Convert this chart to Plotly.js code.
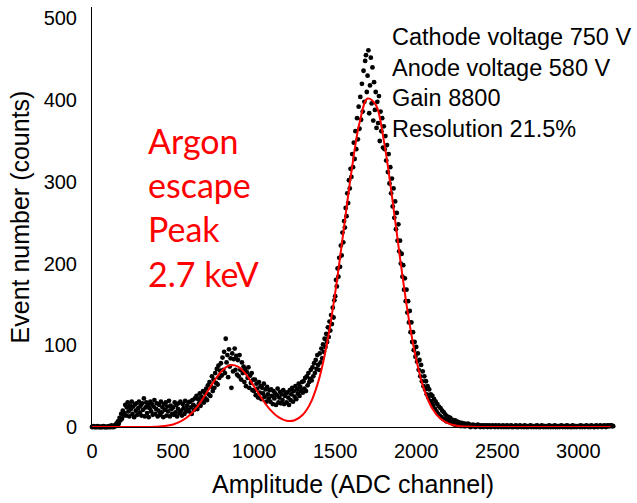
<!DOCTYPE html>
<html>
<head>
<meta charset="utf-8">
<script src="https://cdn.plot.ly/plotly-3.0.1.min.js"></script>
<style>html,body{margin:0;padding:0;background:#fff}#chart{width:637px;height:503px}</style>
</head>
<body>
<div id="chart"></div>
<script>
// Measured spectrum: counts per ADC channel, channels 0,5,10,... (step 5)
const countStep = 5;
const counts = [
  0,0,1,0,0,0,0,1,0,0,0,0,0,0,1,0,0,0,0,0,
  0,1,0,0,2,0,1,0,2,1,4,2,7,4,11,8,16,10,20,14,
  17,27,14,24,30,19,13,26,22,31,16,25,12,28,20,29,15,23,31,18,
  26,14,29,21,35,13,24,30,17,27,12,23,31,19,28,15,25,33,16,22,
  29,13,20,27,15,31,18,24,12,28,21,30,14,25,19,32,13,26,22,16,
  24,15,30,18,27,13,22,29,17,31,20,14,28,23,16,32,19,26,21,30,
  19,31,24,16,33,27,21,35,25,38,22,34,29,41,26,37,32,44,30,42,
  35,47,33,51,40,55,38,49,62,44,58,48,66,54,71,52,75,60,69,78,
  63,85,70,92,66,108,79,88,61,95,74,84,48,90,68,83,96,70,87,64,
  82,62,88,70,58,79,66,74,55,71,50,67,60,73,48,63,54,66,45,58,
  44,58,39,53,47,36,55,42,50,34,48,41,53,37,46,31,49,40,35,45,
  31,46,38,28,44,35,41,27,39,47,30,36,43,29,40,33,45,28,38,42,
  30,42,36,27,45,33,40,48,31,44,37,50,34,46,41,53,38,49,44,55,
  42,56,47,60,44,62,51,66,55,59,70,57,73,62,78,66,82,71,88,76,
  70,90,79,96,84,101,92,108,98,114,104,122,110,129,118,137,126,146,134,155,
  160,180,172,194,184,207,196,222,210,238,226,252,244,268,258,286,274,302,292,316,
  306,334,318,348,328,362,340,378,352,392,365,404,376,420,386,436,398,448,455,410,
  430,461,384,418,452,396,440,375,422,388,410,366,398,372,405,350,386,362,378,342,
  368,340,356,326,345,312,334,298,318,286,304,270,292,256,276,242,262,228,248,215,
  228,200,212,184,198,168,182,154,168,140,154,128,142,116,128,104,116,94,104,86,
  98,80,90,70,82,62,76,56,68,50,62,46,56,40,50,36,46,32,40,30,
  38,26,34,22,31,19,28,16,25,14,23,12,20,10,18,9,15,7,13,8,
  12,6,11,5,9,4,8,3,8,3,7,2,6,2,5,1,5,2,4,1,
  4,1,3,2,4,1,3,0,2,1,3,1,2,0,2,1,3,1,2,0,
  1,2,1,0,2,1,1,2,0,1,2,1,0,1,2,1,1,0,2,1,
  1,0,2,1,1,0,1,2,0,1,1,0,2,1,0,1,1,2,0,1,
  0,1,1,2,0,1,0,1,2,1,0,1,1,0,2,1,0,1,0,1,
  1,2,0,1,1,0,1,1,0,2,1,0,1,0,1,2,1,0,1,1,
  0,1,1,0,2,1,0,1,1,0,1,2,0,1,0,1,1,0,1,2,
  1,0,1,1,0,1,2,0,1,1,0,1,0,2,1,0,1,1,0,1,
  1,1,0,2,1,0,1,1,0,1,2,1,0,1,1,0,2,1,1,0,
  0,1,2,1,0,1,1,2,1,0,1,1,2,1,0,1,2,1,1,2,
  1,2,1,1
];
const channels = counts.map((_, i) => i * countStep);

// Fit curve (red) read at channels 0,50,100,... (step 50)
const fitStep = 50;
const fitCounts = [
  0,0,0,0,0,0,0,0.1,0.4,1.2,
  3.1,7.1,14.1,25,39.5,55.2,68.5,75.5,73.9,64.3,
  49.6,34.1,21,12,7.6,8.2,14.9,30.2,58.3,102.5,
  163.8,237.4,312,372,402,394.5,350.8,283,207,137.3,
  82.7,45.1,22.3,10,4.1,1.5,0.5,0.2,0,0,
  0,0,0,0,0,0,0,0,0,0,
  0,0,0,0,0
];
const fitChannels = fitCounts.map((_, i) => i * fitStep);

const xTicks = [0, 500, 1000, 1500, 2000, 2500, 3000];
const yTicks = [0, 100, 200, 300, 400, 500];
const xTitle = 'Amplitude (ADC channel)';
const yTitle = 'Event number (counts)';
const infoLines = ['Cathode voltage 750 V', 'Anode voltage 580 V', 'Gain 8800', 'Resolution 21.5%'];
const peakLines = ['Argon', 'escape', 'Peak', '2.7 keV'];

const data = [
  {x: channels, y: counts, type: 'scatter', mode: 'markers',
   marker: {color: '#000000', size: 4.8}, hoverinfo: 'skip', cliponaxis: false},
  {x: fitChannels, y: fitCounts, type: 'scatter', mode: 'lines',
   line: {color: '#ff0000', width: 2, shape: 'spline', smoothing: 1}, hoverinfo: 'skip'}
];

const layout = {
  width: 637, height: 503,
  margin: {l: 92, r: 23, t: 7, b: 76},
  paper_bgcolor: '#ffffff', plot_bgcolor: '#ffffff',
  showlegend: false,
  font: {family: 'Liberation Sans, Arial, sans-serif', color: '#000000', size: 20},
  xaxis: {
    range: [0, 3220], tickvals: xTicks, ticktext: xTicks.map(String),
    showgrid: false, zeroline: false, showline: true, linecolor: '#000000', linewidth: 1,
    ticks: '', ticklabelstandoff: 6,
    tickfont: {size: 20, color: '#000000'},
    title: {text: xTitle, font: {size: 25, color: '#000000'}, standoff: 14}
  },
  yaxis: {
    range: [0, 514], tickvals: yTicks, ticktext: yTicks.map(String),
    showgrid: false, zeroline: false, showline: true, linecolor: '#000000', linewidth: 1,
    ticks: '', ticklabelstandoff: 10,
    tickfont: {size: 20, color: '#000000'},
    title: {text: yTitle, font: {size: 25, color: '#000000'}, standoff: 6}
  },
  annotations: [
    {xref: 'paper', yref: 'paper', x: (390 - 92) / 522, y: 1 - (22 - 7) / 420,
     xanchor: 'left', yanchor: 'top', align: 'left', showarrow: false,
     text: infoLines.join('<br>'),
     font: {family: 'Liberation Sans, Arial, sans-serif', size: 23.5, color: '#000000'}},
    {xref: 'paper', yref: 'paper', x: (146 - 92) / 522, y: 1 - (118 - 7) / 420,
     xanchor: 'left', yanchor: 'top', align: 'left', showarrow: false,
     text: peakLines.join('<br>'),
     font: {family: 'Lato, Carlito, sans-serif', size: 34, color: '#ff0000'}}
  ]
};

Plotly.newPlot('chart', data, layout, {staticPlot: true, displayModeBar: false});
</script>
</body>
</html>
